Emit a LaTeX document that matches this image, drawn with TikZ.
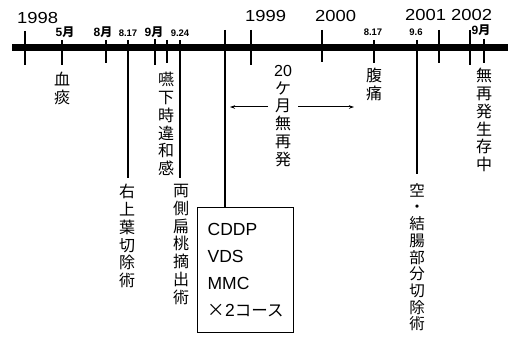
\documentclass[tikz,border=0pt]{standalone}
\usepackage{fontspec}
\usepackage{graphicx}
\setmainfont{Liberation Sans}
\newfontfamily\cjk{Noto Sans CJK JP}
\usetikzlibrary{arrows.meta}
\tikzset{
  tk/.style={line width=1.3pt},
  yearlbl/.style={inner sep=0pt, anchor=base west, font=\fontsize{16}{16}\selectfont},
  monlbl/.style={inner sep=0pt, anchor=base, font=\bfseries\fontsize{12}{12}\selectfont},
  daylbl/.style={inner sep=0pt, anchor=base, font=\bfseries\fontsize{9.5}{9.5}\selectfont},
  vtxt/.style={inner sep=0pt, anchor=north, align=center, font=\cjk\fontsize{16}{17.8}\selectfont},
  arr/.style={line width=1pt, -{Stealth[length=5pt,width=3.5pt]}},
}
\newcommand{\yr}[1]{\scalebox{1.15}[1]{#1}}
\begin{document}
\begin{tikzpicture}[x=1pt,y=-1pt]
\useasboundingbox (0,0) rectangle (508,339);
% main bar
\coordinate (barL) at (12,48);
\coordinate (barR) at (508,48);
\draw[line width=7pt] (barL) -- (barR);
% year labels
\node[yearlbl] (y1998) at (17,24) {\yr{1998}};
\node[yearlbl] (y1999) at (245,22) {\yr{1999}};
\node[yearlbl] (y2000) at (315,22) {\yr{2000}};
\node[yearlbl] (y2001) at (405,21) {\yr{2001}};
\node[yearlbl] (y2002) at (451,21) {\yr{2002}};
% month / day labels
\node[monlbl] (m5) at (65,37) {5{\cjk 月}};
\node[monlbl] (m8) at (103,37) {8{\cjk 月}};
\node[daylbl] (d817) at (128,37) {8.17};
\node[monlbl] (m9) at (154,37) {9{\cjk 月}};
\node[daylbl] (d924) at (180,37) {9.24};
\node[daylbl] (d817b) at (373,36) {8.17};
\node[daylbl] (d96) at (416,36) {9.6};
\node[monlbl] (m9b) at (481,35) {9{\cjk 月}};
% tick coordinates
\coordinate (t1998a) at (25,31);  \coordinate (t1998b) at (25,65);
\coordinate (t5a) at (62,40);     \coordinate (t5b) at (62,65);
\coordinate (t8a) at (106,40);    \coordinate (t8b) at (106,63);
\coordinate (t817a) at (128,40);
\coordinate (t9a) at (155,39);    \coordinate (t9b) at (155,65);
\coordinate (tena) at (167,40);   \coordinate (tenb) at (167,63);
\coordinate (t924a) at (180,40);
\coordinate (tboxa) at (225,30);
\coordinate (t1999a) at (251,30); \coordinate (t1999b) at (251,65);
\coordinate (t2000a) at (322,30); \coordinate (t2000b) at (322,62);
\coordinate (t817ba) at (374,40); \coordinate (t817bb) at (374,63);
\coordinate (t96a) at (417,40);
\coordinate (t2001a) at (439,30); \coordinate (t2001b) at (439,63);
\coordinate (t2002a) at (470,30); \coordinate (t2002b) at (470,65);
\coordinate (t9ba) at (484,39);   \coordinate (t9bb) at (484,63);
\draw[tk] (t1998a) -- (t1998b);
\draw[tk] (t5a) -- (t5b);
\draw[tk] (t8a) -- (t8b);
\draw[tk] (t9a) -- (t9b);
\draw[tk] (tena) -- (tenb);
\draw[tk] (t1999a) -- (t1999b);
\draw[tk] (t2000a) -- (t2000b);
\draw[tk] (t817ba) -- (t817bb);
\draw[tk] (t2001a) -- (t2001b);
\draw[tk] (t2002a) -- (t2002b);
\draw[tk] (t9ba) -- (t9bb);
% vertical labels
\node[vtxt] (kettan) at (62,72) {血\\痰};
\node[vtxt] (engeki) at (166,72) {嚥\\下\\時\\違\\和\\感};
\node[vtxt] (migi) at (127,184) {右\\上\\葉\\切\\除\\術};
\node[vtxt] (ryoso) at (181,184) {両\\側\\扁\\桃\\摘\\出\\術};
\node[vtxt] (mu20) at (283,65) {{\rmfamily 20}\\ケ\\月\\無\\再\\発};
\node[vtxt] (fukutsu) at (374,68) {腹\\痛};
\node[vtxt, font=\cjk\fontsize{15.5}{16.7}\selectfont] (kuu) at (417,183) {空\\・\\結\\腸\\部\\分\\切\\除\\術};
\node[vtxt] (museisei) at (484,68) {無\\再\\発\\生\\存\\中};
% long lines to labels
\draw[tk] (t817a) -- ([yshift=6pt]migi.north -| t817a);
\draw[tk] (t924a) -- ([yshift=6pt]ryoso.north -| t924a);
\draw[tk] (t96a) -- ([yshift=9pt]kuu.north -| t96a);
% box
\node[draw, line width=1.2pt, minimum width=96pt, minimum height=125pt, inner sep=0pt,
      anchor=north west, align=left, font=\fontsize{17.5}{27}\selectfont] (box) at (197,207)
  {CDDP\\VDS\\MMC\\{\cjk ×}2{\cjk\fontsize{16.5}{27}\selectfont コース}};
\draw[tk] (tboxa) -- (tboxa |- box.north);
% arrows
\coordinate (la) at (268,107); \coordinate (lb) at (230,107);
\coordinate (ra) at (298,107); \coordinate (rb) at (354,107);
\draw[arr] (la) -- (lb);
\draw[arr] (ra) -- (rb);
\end{tikzpicture}
\end{document}
